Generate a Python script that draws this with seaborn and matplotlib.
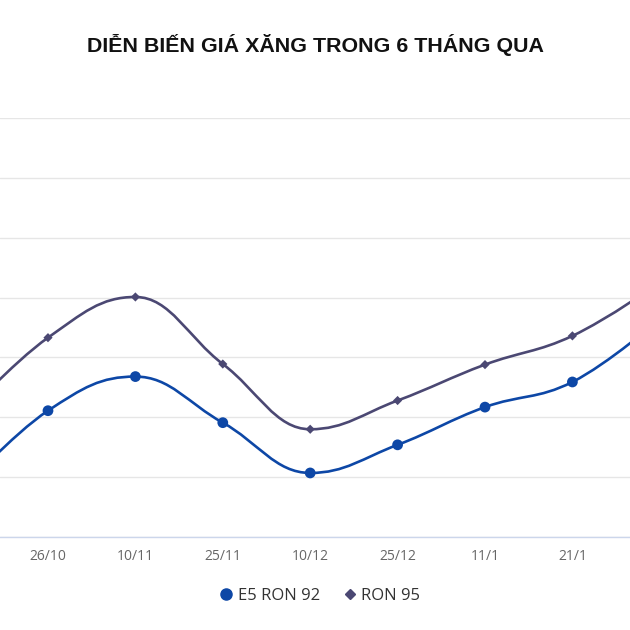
import numpy as np
import pandas as pd
import seaborn as sns
import matplotlib.pyplot as plt
from matplotlib.path import Path
from matplotlib.patches import PathPatch
from matplotlib.lines import Line2D

# dates (first and last fall outside the visible crop)
dates = ['11/10', '26/10', '10/11', '25/11', '10/12', '25/12', '11/1', '21/1', '26/1']
e5_ron92 = [21760, 23110, 23680, 22910, 22070, 22540, 23170, 23590, 24640]
ron95 = [22960, 24330, 25010, 23890, 22800, 23280, 23880, 24360, 25250]

SERIES_COLORS = {'E5 RON 92': '#0d47a6', 'RON 95': '#4b4873'}

sns.set_style("white")
plt.rcParams['font.family'] = ['Open Sans', 'DejaVu Sans']


def spline_path(xs, ys, smoothing=1.5):
    # highcharts-like spline: bezier control points from the neighbours
    n = len(xs)
    verts = [(xs[0], ys[0])]
    codes = [Path.MOVETO]
    right_prev = (xs[0], ys[0])
    for i in range(1, n):
        x, y = xs[i], ys[i]
        if i < n - 1:
            lx = (smoothing * x + xs[i - 1]) / (smoothing + 1)
            ly = (smoothing * y + ys[i - 1]) / (smoothing + 1)
            rx = (smoothing * x + xs[i + 1]) / (smoothing + 1)
            ry = (smoothing * y + ys[i + 1]) / (smoothing + 1)
            corr = (ry - ly) * (rx - x) / (rx - lx) + y - ry
            ly += corr
            ry += corr
            if ly > ys[i - 1] and ly > y:
                ly = max(ys[i - 1], y); ry = 2 * y - ly
            elif ly < ys[i - 1] and ly < y:
                ly = min(ys[i - 1], y); ry = 2 * y - ly
            if ry > ys[i + 1] and ry > y:
                ry = max(ys[i + 1], y); ly = 2 * y - ry
            elif ry < ys[i + 1] and ry < y:
                ry = min(ys[i + 1], y); ly = 2 * y - ry
        else:
            lx, ly, rx, ry = x, y, x, y
        verts += [right_prev, (lx, ly), (x, y)]
        codes += [Path.CURVE4] * 3
        right_prev = (rx, ry)
    return Path(verts, codes)


df = pd.DataFrame({
    'idx': list(range(len(dates))) * 2,
    'price': e5_ron92 + ron95,
    'series': ['E5 RON 92'] * len(dates) + ['RON 95'] * len(dates),
})

fig = plt.figure(figsize=(6.3, 6.3), dpi=100)
ax = fig.add_axes([0, 93 / 630, 1, 419 / 630])

for name, vals in [('E5 RON 92', e5_ron92), ('RON 95', ron95)]:
    path = spline_path(list(range(len(dates))), vals)
    ax.add_patch(PathPatch(path, fill=False, edgecolor=SERIES_COLORS[name], lw=1.9,
                           capstyle='round', joinstyle='round', zorder=3))

sns.scatterplot(data=df[df['series'] == 'E5 RON 92'], x='idx', y='price', ax=ax,
                color=SERIES_COLORS['E5 RON 92'], marker='o', s=60, edgecolor='none',
                legend=False, zorder=4)
sns.scatterplot(data=df[df['series'] == 'RON 95'], x='idx', y='price', ax=ax,
                color=SERIES_COLORS['RON 95'], marker='D', s=22, edgecolor='none',
                legend=False, zorder=4)

ax.set_yticks(range(21000, 28001, 1000))
ax.set_yticklabels([])
ax.yaxis.grid(True, color='#e6e6e6', lw=1)
ax.set_xticks(range(len(dates)))
ax.set_xticklabels(dates, color='#666666', fontsize=10)
ax.set_xlim(0.451, 7.659)
ax.set_ylim(21000, 28000)
ax.tick_params(axis='both', length=0)
ax.tick_params(axis='x', pad=9)
ax.set_xlabel('')
ax.set_ylabel('')
for side in ['top', 'left', 'right']:
    ax.spines[side].set_visible(False)
ax.spines['bottom'].set_color('#ccd6eb')
ax.spines['bottom'].set_linewidth(1)

fig.text(0.5, 1 - 45 / 630, 'DIỄN BIẾN GIÁ XĂNG TRONG 6 THÁNG QUA', ha='center', va='center',
         fontsize=15.4, fontweight='bold', color='#111111', family=['Liberation Sans', 'DejaVu Sans'])

handles = [
    Line2D([], [], marker='o', linestyle='none', color=SERIES_COLORS['E5 RON 92'], markersize=8,
           label='E5 RON 92'),
    Line2D([], [], marker='D', linestyle='none', color=SERIES_COLORS['RON 95'], markersize=5,
           label='RON 95'),
]
fig.legend(handles=handles, loc='center', bbox_to_anchor=(0.505, 1 - 596 / 630), ncol=2,
           frameon=False, fontsize=12, handletextpad=0.1, columnspacing=1.2,
           labelcolor='#333333', handlelength=1.2)

fig.savefig('out.png', dpi=100, facecolor='white')
